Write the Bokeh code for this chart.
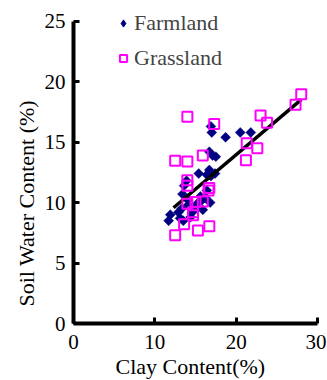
import numpy as np
from bokeh.plotting import figure
from bokeh.models import Legend, LegendItem, Title, FixedTicker
from bokeh.embed import file_html
from bokeh.resources import INLINE

# Farmland data (clay %, soil water %)
farm_x = [11.7, 11.9, 12.9, 13.1, 13.5, 13.4, 13.6, 13.9, 14.1, 14.1, 14.4, 14.6,
          15.0, 15.2, 15.4, 15.6, 15.8, 15.9, 16.2, 16.4, 16.4, 16.7, 16.9, 16.7,
          17.1, 17.5, 17.4, 17.0, 16.9, 18.7, 20.5, 21.8, 16.8, 13.3]
farm_y = [8.5, 9.0, 9.2, 8.7, 8.5, 10.7, 11.4, 11.8, 10.2, 9.8, 8.8, 9.2,
          9.6, 9.9, 12.4, 10.5, 10.2, 9.4, 10.4, 11.0, 12.3, 12.7, 12.2, 14.2,
          13.9, 13.8, 12.4, 15.8, 16.3, 15.4, 15.8, 15.8, 10.0, 9.5]

# Grassland data
grass_x = [14.0, 17.3, 12.5, 14.0, 15.9, 14.0, 14.0, 16.7, 14.0, 15.0, 15.9, 14.7,
           14.7, 13.6, 12.5, 15.3, 16.7, 21.3, 22.6, 21.2, 23.0, 23.8, 27.3, 28.0, 16.6]
grass_y = [17.1, 16.5, 13.45, 13.4, 13.9, 11.85, 11.4, 11.2, 9.9, 10.05, 10.1, 9.2,
           8.95, 8.2, 7.3, 7.7, 8.05, 14.9, 14.5, 13.5, 17.2, 16.6, 18.1, 18.95, 11.0]

# Regression line
fit_slope = 0.57
fit_intercept = 2.56
fit_x_range = [12.3, 28.0]

x_ticks = [0, 10, 20, 30]
y_ticks = [0, 5, 10, 15, 20, 25]

FONT = "Liberation Serif"
NAVY = "#000080"
MAGENTA = "#FF00FF"

p = figure(width=326, height=380, x_range=(0, 30), y_range=(0, 26.3),
           output_backend="svg", toolbar_location=None,
           min_border_left=73, min_border_right=9, min_border_top=5, min_border_bottom=57)
p.outline_line_color = None
p.grid.visible = False
p.background_fill_color = "white"
p.border_fill_color = "white"

for ax in (p.xaxis[0], p.yaxis[0]):
    ax.axis_line_width = 4
    ax.axis_line_color = "black"
    ax.major_tick_line_width = 3
    ax.major_tick_line_color = "black"
    ax.major_tick_in = 6
    ax.major_tick_out = 0
    ax.minor_tick_line_color = None
    ax.major_label_text_font = FONT
    ax.major_label_text_font_size = "21px"
    ax.major_label_text_color = "black"

p.xaxis[0].ticker = FixedTicker(ticks=x_ticks)
p.yaxis[0].ticker = FixedTicker(ticks=y_ticks)
p.yaxis[0].bounds = (0, 25)
p.xaxis[0].major_label_standoff = 11
p.yaxis[0].major_label_standoff = 8

r_farm = p.scatter(farm_x, farm_y, marker="square", size=7, angle=np.pi / 4,
                   fill_color=NAVY, line_color=NAVY, line_width=0.5)

lx = np.array(fit_x_range)
p.line(lx, fit_slope * lx + fit_intercept, line_color="black", line_width=3.5)

r_grass = p.scatter(grass_x, grass_y, marker="square", size=10,
                    fill_color=None, line_color=MAGENTA, line_width=2)

# hidden duplicate of the farmland series, used only for its diamond legend key
r_farm_key = p.scatter(farm_x, farm_y, marker="diamond", size=9,
                       fill_color=NAVY, line_color=NAVY, line_width=1, visible=False)

legend = Legend(items=[LegendItem(label="Farmland", renderers=[r_farm_key]),
                       LegendItem(label="Grassland", renderers=[r_grass])],
                location=(41, 252), padding=0, margin=0, spacing=9,
                glyph_width=18, glyph_height=18, label_height=24, label_standoff=2,
                label_text_font=FONT, label_text_font_size="22px",
                border_line_color=None, background_fill_alpha=0)
p.add_layout(legend, "center")

p.add_layout(Title(text="Clay Content(%)", align="left", offset=42, standoff=0,
                   text_font=FONT, text_font_size="22px", text_font_style="normal",
                   text_color="black"), "below")
p.add_layout(Title(text="Soil Water Content (%)", align="left", offset=17, standoff=6,
                   text_font=FONT, text_font_size="22px", text_font_style="normal",
                   text_color="black"), "left")

open("out.html", "w").write(file_html(p, INLINE))
